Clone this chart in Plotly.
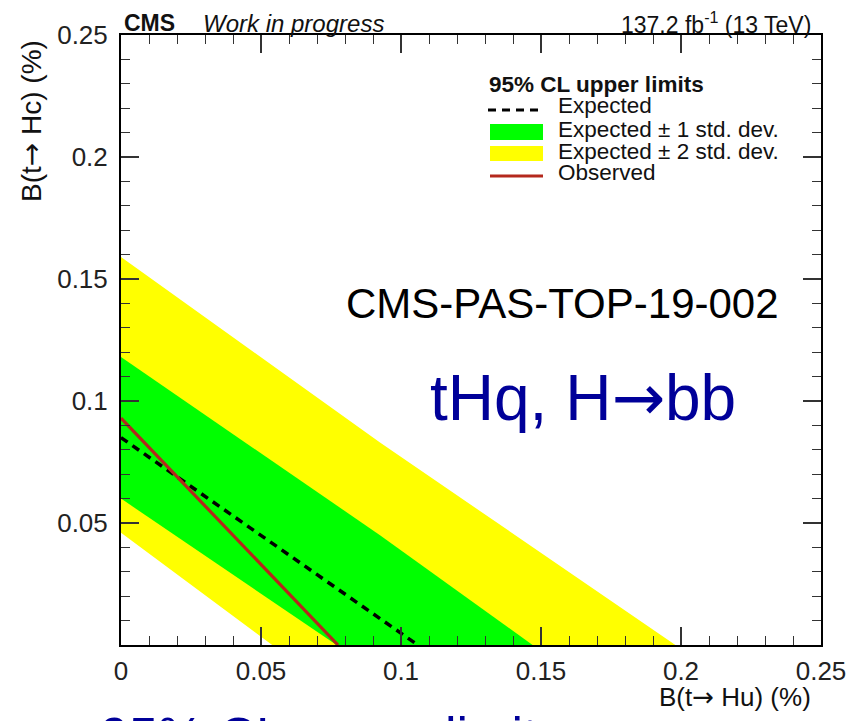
import plotly.graph_objects as go

# 95% CL upper limits in the B(t->Hu) vs B(t->Hc) plane (both in %)
# each contour: points (x = B(t->Hu), y = B(t->Hc)) along the limit line
exp_x = [0.0, 0.106]
exp_y = [0.085, 0.0]

obs_x = [0.0, 0.0775]
obs_y = [0.093, 0.0]

p1_x = [0.0, 0.0925, 0.147]      # expected + 1 s.d.
p1_y = [0.118, 0.045, 0.0]
m1_x = [0.0, 0.077]               # expected - 1 s.d.
m1_y = [0.060, 0.0]

p2_x = [0.0, 0.0925, 0.198]      # expected + 2 s.d.
p2_y = [0.159, 0.083, 0.0]
m2_x = [0.0, 0.054]               # expected - 2 s.d.
m2_y = [0.046, 0.0]

x_ticks = [0.0, 0.05, 0.1, 0.15, 0.2, 0.25]
x_tick_text = ["0", "0.05", "0.1", "0.15", "0.2", "0.25"]
y_ticks = [0.05, 0.1, 0.15, 0.2, 0.25]
y_tick_text = ["0.05", "0.1", "0.15", "0.2", "0.25"]

legend_header = "95% CL upper limits"
legend_labels = ["Expected", "Expected \u00b1 1 std. dev.", "Expected \u00b1 2 std. dev.", "Observed"]

YELLOW = "#ffff00"
GREEN = "#00ff00"
OBS_RED = "rgb(180,40,28)"
NAVY = "#000099"
FONT = "Liberation Sans, Arial, Helvetica, sans-serif"
ARROW = '<span style="font-family:DejaVu Sans">\u2192</span>'

W, H = 857, 721
L, R, T, B = 121, 36, 35, 76


def px(xp):
    return (xp - L) / (W - L - R)


def py(yp):
    return (H - B - yp) / (H - T - B)


def band(up_x, up_y, lo_x, lo_y):
    return up_x + lo_x[::-1], up_y + lo_y[::-1]


fig = go.Figure()

bx, by = band(p2_x, p2_y, m2_x, m2_y)
fig.add_trace(go.Scatter(x=bx, y=by, fill="toself", fillcolor=YELLOW, mode="none",
                         hoverinfo="skip", showlegend=False))
gx, gy = band(p1_x, p1_y, m1_x, m1_y)
fig.add_trace(go.Scatter(x=gx, y=gy, fill="toself", fillcolor=GREEN, mode="none",
                         hoverinfo="skip", showlegend=False))
fig.add_trace(go.Scatter(x=exp_x, y=exp_y, mode="lines",
                         line=dict(color="black", width=3.5, dash="8px,6px"),
                         showlegend=False))
fig.add_trace(go.Scatter(x=obs_x, y=obs_y, mode="lines",
                         line=dict(color=OBS_RED, width=3.2), showlegend=False))

axis_common = dict(
    showline=True, linecolor="black", linewidth=2, mirror="allticks",
    ticks="inside", ticklen=18, tickwidth=1.5, tickcolor="#333",
    minor=dict(ticks="inside", ticklen=9, tickwidth=1.2, tickcolor="#333", dtick=0.01),
    showgrid=False, zeroline=False,
    tickfont=dict(family=FONT, size=26, color="#222"),
)

fig.update_xaxes(range=[0, 0.25], tickvals=x_ticks, ticktext=x_tick_text,
                 ticklabelstandoff=2, **axis_common)
fig.update_yaxes(range=[0, 0.25], tickvals=y_ticks, ticktext=y_tick_text,
                 ticklabelstandoff=6, **axis_common)

ann = []


def text(x, y, s, size, color="#111", xanchor="left", yanchor="middle", angle=0):
    ann.append(dict(x=x, y=y, xref="paper", yref="paper", text=s, showarrow=False,
                    xanchor=xanchor, yanchor=yanchor, textangle=angle,
                    font=dict(family=FONT, size=size, color=color)))


# header above the frame
text(px(122), py(23), "<b>CMS</b>", 23)
text(px(201), py(23), "<i>Work in progress</i>", 24)
text(px(813), py(23), "137.2 fb<sup>-1</sup> (13 TeV)", 23, xanchor="right")

# axis titles
text(px(813), py(697), "B(t" + ARROW + " Hu) (%)", 26, xanchor="right")
text(px(31), py(38), "B(t" + ARROW + " Hc) (%)", 28, xanchor="center", yanchor="top", angle=-90)

# legend
text(px(487), py(84), "<b>" + legend_header + "</b>", 22.5)
for label, yc in zip(legend_labels, [105, 130, 152, 173]):
    text(px(556), py(yc), label, 22.5)

# overlay labels
text(px(344), py(303), "CMS-PAS-TOP-19-002", 42, color="black")
text(px(428), py(398), "tHq, H" + ARROW + "bb", 64, color=NAVY)
text(px(98), py(736), "95% CL upper limits", 52, color=NAVY)

shapes = [
    dict(type="line", xref="paper", yref="paper", x0=px(488), x1=px(542), y0=py(110), y1=py(110),
         line=dict(color="black", width=3, dash="8px,6px")),
    dict(type="rect", xref="paper", yref="paper", x0=px(490), x1=px(543), y0=py(140), y1=py(124),
         fillcolor=GREEN, line=dict(width=0)),
    dict(type="rect", xref="paper", yref="paper", x0=px(490), x1=px(543), y0=py(161), y1=py(146),
         fillcolor=YELLOW, line=dict(width=0)),
    dict(type="line", xref="paper", yref="paper", x0=px(490), x1=px(543), y0=py(176), y1=py(176),
         line=dict(color=OBS_RED, width=3)),
]

fig.update_layout(
    width=W, height=H, autosize=False,
    margin=dict(l=L, r=R, t=T, b=B),
    paper_bgcolor="white", plot_bgcolor="white",
    showlegend=False,
    annotations=ann, shapes=shapes,
)

fig.write_html("out.html")
